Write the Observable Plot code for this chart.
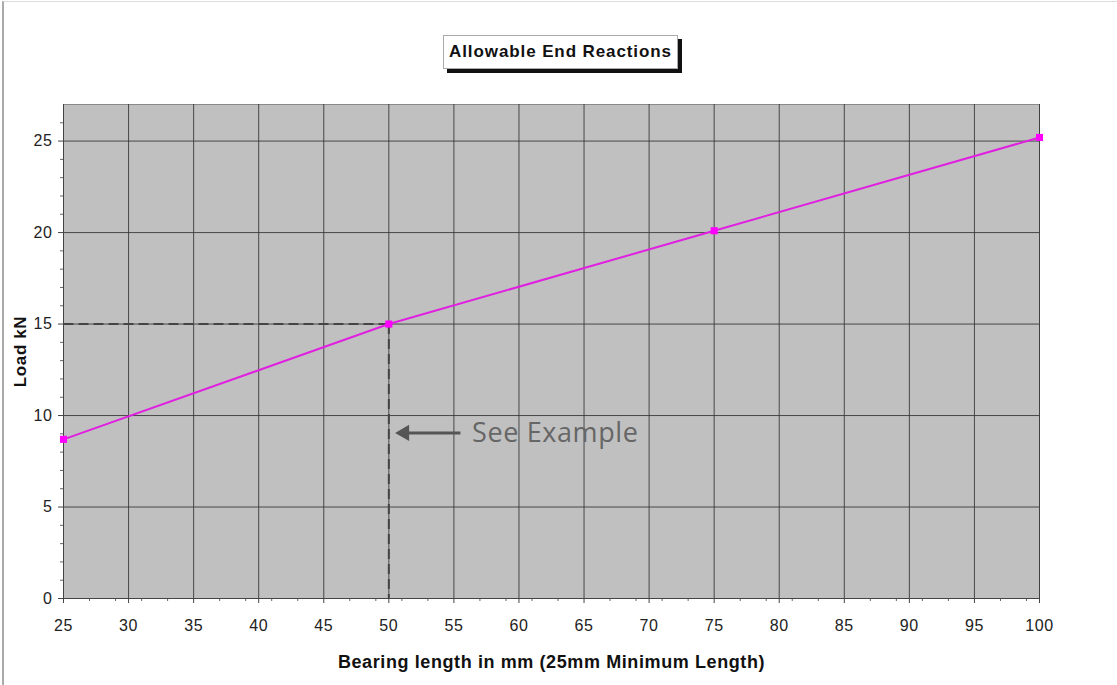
<!DOCTYPE html>
<html>
<head>
<meta charset="utf-8">
<script src="https://cdn.jsdelivr.net/npm/d3@7"></script>
<script src="https://cdn.jsdelivr.net/npm/@observablehq/plot@0.6"></script>
<style>
  html, body { margin: 0; padding: 0; background: #fff; }
  #wrap { position: relative; width: 1117px; height: 685px; overflow: hidden; }
  #wrap svg { position: absolute; left: 0; top: 0; }
  #wrap svg text { letter-spacing: 0.6px; }
  #border { position: absolute; left: 2px; top: 1px; width: 1130px; height: 700px;
            border-left: 2px solid #aaa; border-top: 1px solid #ddd; box-sizing: border-box; }
  #title { position: absolute; left: 443px; top: 35px; width: 235px; height: 34px;
           border: 1px solid #aaa; background: #fff; box-shadow: 4px 4px 0 #111;
           font: bold 17px "Liberation Sans", Arial, sans-serif; letter-spacing: 0.9px; color: #111;
           display: flex; align-items: center; justify-content: center; box-sizing: border-box; }
</style>
</head>
<body>
<div id="wrap">
  <div id="border"></div>
  <div id="title">Allowable End Reactions</div>
</div>
<script>
// ---- data ----
const chartTitle = "Allowable End Reactions";
const xLabel = "Bearing length in mm (25mm Minimum Length)";
const yLabel = "Load kN";
const bearing = [25, 50, 75, 100];
const load = [8.7, 15, 20.1, 25.2];
const xTicks = [25, 30, 35, 40, 45, 50, 55, 60, 65, 70, 75, 80, 85, 90, 95, 100];
const xMinor = [27, 29, 31, 33, 37, 39, 41, 43, 47, 49, 51, 53, 57, 59, 61, 63, 67, 69, 71, 73, 77, 79, 81, 83, 87, 89, 91, 93, 97, 99];
const yTicks = [0, 5, 10, 15, 20, 25];
const yMinor = [1, 2, 3, 4, 6, 7, 8, 9, 11, 12, 13, 14, 16, 17, 18, 19, 21, 22, 23, 24, 26];
const exampleBearing = 50;
const exampleLoad = 15;
const arrowY = 9.05;
const arrowFromX = 55.5;
const arrowToX = 50.7;
const arrowHeadX = 51.2;
const noteText = "See Example";
const noteX = 56.4;

const data = bearing.map((b, i) => ({bearing: b, load: load[i]}));
const guides = [
  {x1: 25, y1: exampleLoad, x2: exampleBearing, y2: exampleLoad},
  {x1: exampleBearing, y1: exampleLoad, x2: exampleBearing, y2: 0}
];

const chart = Plot.plot({
  width: 1117,
  height: 685,
  marginLeft: 63,
  marginRight: 78,
  marginTop: 104,
  marginBottom: 87,
  x: {domain: [25, 100]},
  y: {domain: [0, 27]},
  style: {background: "transparent", fontFamily: "'Liberation Sans', Arial, sans-serif", fontSize: "16px", color: "#222"},
  marks: [
    Plot.frame({fill: "#c0c0c0", stroke: "#8a8a8a"}),
    Plot.gridX(xTicks, {stroke: "#333", strokeOpacity: 0.85}),
    Plot.gridY(yTicks, {stroke: "#333", strokeOpacity: 0.85}),
    Plot.axisX(xTicks, {tickSize: 5, tickPadding: 16, label: null, stroke: "#444"}),
    Plot.axisX(xMinor, {tickSize: 3, text: null, label: null, stroke: "#666"}),
    Plot.axisY(yTicks, {tickSize: 5, tickPadding: 6, label: null, stroke: "#444"}),
    Plot.axisY(yMinor, {tickSize: 3, text: null, label: null, stroke: "#666"}),
    Plot.ruleY([0], {stroke: "#444"}),
    Plot.ruleX([25], {stroke: "#444"}),
    Plot.link(guides, {x1: "x1", y1: "y1", x2: "x2", y2: "y2", stroke: "#444", strokeWidth: 2, strokeDasharray: "10,5"}),
    Plot.line(data, {x: "bearing", y: "load", stroke: "#e020e0", strokeWidth: 2}),
    Plot.dot(data, {x: "bearing", y: "load", symbol: "square", r: 4, fill: "#ff00ff", stroke: null}),
    Plot.link([{x1: arrowFromX, x2: arrowHeadX, y: arrowY}], {x1: "x1", x2: "x2", y1: "y", y2: "y", stroke: "#555", strokeWidth: 3}),
    Plot.dot([{x: arrowHeadX, y: arrowY}], {x: "x", y: "y", symbol: "triangle", r: 6, rotate: -90, fill: "#555", stroke: null}),
    Plot.text([noteText], {x: noteX, y: arrowY, text: d => d, textAnchor: "start", fontSize: 27, fill: "#666", fontFamily: "'Open Sans', sans-serif"}),
    Plot.text([xLabel], {frameAnchor: "bottom", dy: 64, lineAnchor: "middle", text: d => d, fontWeight: "bold", fontSize: 18, fill: "#111"}),
    Plot.text([yLabel], {frameAnchor: "left", dx: -43, textAnchor: "middle", rotate: -90, text: d => d, fontWeight: "bold", fontSize: 17, fill: "#111"})
  ]
});
document.getElementById("wrap").insertBefore(chart, document.getElementById("border"));
document.getElementById("title").textContent = chartTitle;
</script>
</body>
</html>
